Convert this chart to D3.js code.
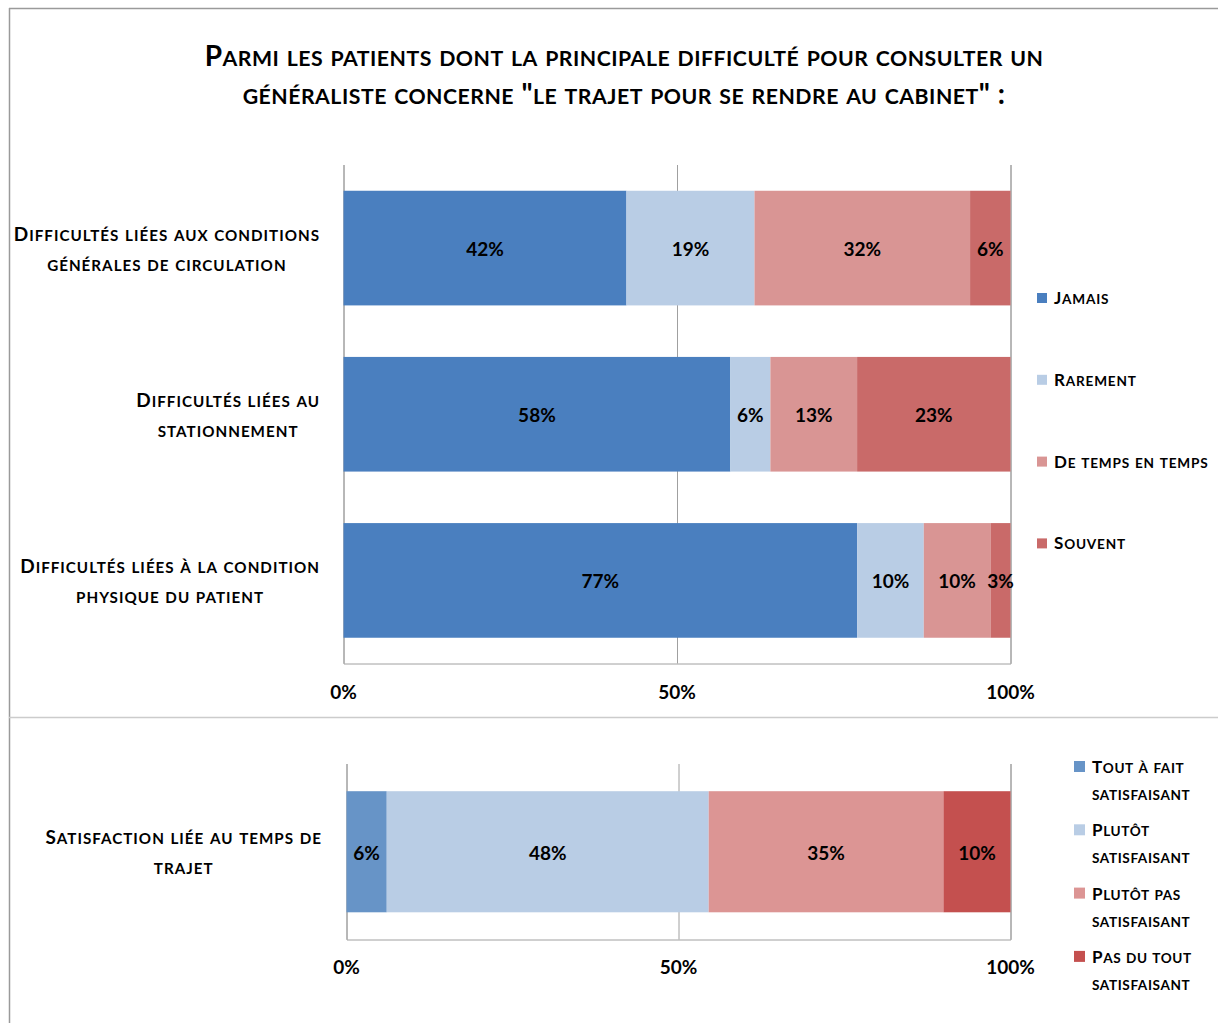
<!DOCTYPE html>
<html>
<head>
<meta charset="utf-8">
<script src="https://cdn.jsdelivr.net/npm/d3@7"></script>
<style>
  html, body { margin: 0; padding: 0; background: #fff; }
  svg { display: block; }
  text { font-family: Lato, "Open Sans", "DejaVu Sans", sans-serif; font-weight: bold; fill: #000; }
</style>
</head>
<body>
<svg id="chart" width="1218" height="1023"></svg>
<script>
// ---------- DATA ----------
const titleLines = [
  "Parmi les patients dont la principale difficulté pour consulter un",
  "généraliste concerne \"le trajet pour se rendre au cabinet\" :"
];

// Top chart: categories (each label split on two lines)
const categories = [
  ["Difficultés liées aux conditions", "générales de circulation"],
  ["Difficultés liées au", "stationnement"],
  ["Difficultés liées à la condition", "physique du patient"]
];
const seriesTop = ["Jamais", "Rarement", "De temps en temps", "Souvent"];
const jamais         = [42, 58, 77];
const rarement       = [19, 6, 10];
const deTempsEnTemps = [32, 13, 10];
const souvent        = [6, 23, 3];
const colorsTop = ["#4a7fbf", "#b9cde5", "#d99594", "#c96a69"];

// Bottom chart
const satCategories = [["Satisfaction liée au temps de", "trajet"]];
const seriesBottom = [
  ["Tout à fait", "satisfaisant"],
  ["Plutôt", "satisfaisant"],
  ["Plutôt pas", "satisfaisant"],
  ["Pas du tout", "satisfaisant"]
];
const toutAFait = [6];
const plutot    = [48];
const plutotPas = [35];
const pasDuTout = [10];
const colorsBottom = ["#6794c7", "#b9cde5", "#dc9594", "#c4504f"];

const tickValues = [0, 0.5, 1];
const tickLabels = ["0%", "50%", "100%"];

// ---------- HELPERS ----------
// manual small caps: lowercase letters become uppercase at a reduced size
function smallCaps(textSel, str, size, ratio, spacing) {
  textSel.style("font-size", size + "px").style("letter-spacing", (spacing || 0) + "px");
  const runs = [];
  for (const ch of str) {
    const isLower = ch !== ch.toUpperCase();
    const last = runs[runs.length - 1];
    if (last && last.lower === isLower) last.s += ch;
    else runs.push({ lower: isLower, s: ch });
  }
  runs.forEach(r => {
    textSel.append("tspan")
      .style("font-size", (r.lower ? size * ratio : size) + "px")
      .text(r.lower ? r.s.toUpperCase() : r.s);
  });
  return textSel;
}

// ---------- DRAW ----------
const svg = d3.select("#chart");
const gridColor = "#a0a0a0";

// frame
svg.append("line").attr("x1", 9).attr("x2", 1218).attr("y1", 8.5).attr("y2", 8.5)
  .attr("stroke", "#9a9a9a").attr("stroke-width", 1.5);
svg.append("line").attr("x1", 9.5).attr("x2", 9.5).attr("y1", 8).attr("y2", 1023)
  .attr("stroke", "#9a9a9a").attr("stroke-width", 1.5);
svg.append("line").attr("x1", 9).attr("x2", 1218).attr("y1", 717.5).attr("y2", 717.5)
  .attr("stroke", "#cccccc").attr("stroke-width", 1.5);

// title
titleLines.forEach((ln, i) => {
  const t = svg.append("text").attr("x", 624).attr("y", 66 + i * 38).attr("text-anchor", "middle");
  smallCaps(t, ln, 28, 0.76, 0.5);
});

function drawChart(opts) {
  const { cats, seriesNames, valueArrays, colors, x0, x1, y0, y1, tickY, labelRight, labelDy } = opts;
  const rows = cats.map((c, i) => {
    const r = { idx: i };
    seriesNames.forEach((s, k) => { r["s" + k] = valueArrays[k][i]; });
    return r;
  });
  const keys = seriesNames.map((s, k) => "s" + k);
  const stacked = d3.stack().keys(keys).offset(d3.stackOffsetExpand)(rows);

  const x = d3.scaleLinear().domain([0, 1]).range([x0, x1]);
  const y = d3.scaleBand().domain(d3.range(cats.length)).range([y0, y1])
    .paddingInner(0.31).paddingOuter(0.155);

  const g = svg.append("g");

  // gridlines
  g.append("g").attr("transform", `translate(0,${y1})`)
    .call(d3.axisBottom(x).tickValues(tickValues).tickSize(-(y1 - y0)).tickFormat(""))
    .call(a => a.select(".domain").attr("stroke", gridColor))
    .call(a => a.selectAll(".tick line").attr("stroke", gridColor).attr("stroke-width", 1));

  // bars
  const layers = g.selectAll("g.layer").data(stacked).join("g")
    .attr("class", "layer").attr("fill", (d, k) => colors[k]);
  layers.selectAll("rect").data(d => d).join("rect")
    .attr("x", d => x(d[0])).attr("width", d => x(d[1]) - x(d[0]))
    .attr("y", (d, i) => y(i)).attr("height", y.bandwidth());

  // value labels
  stacked.forEach((layer, k) => {
    g.append("g").selectAll("text").data(layer).join("text")
      .attr("x", d => (x(d[0]) + x(d[1])) / 2)
      .attr("y", (d, i) => y(i) + y.bandwidth() / 2 + 8)
      .attr("text-anchor", "middle")
      .style("font-size", "19px")
      .text((d, i) => valueArrays[k][i] + "%");
  });

  // x tick labels
  g.append("g").selectAll("text").data(tickValues).join("text")
    .attr("x", d => x(d)).attr("y", tickY)
    .attr("text-anchor", "middle")
    .style("font-size", "19px")
    .text((d, i) => tickLabels[i]);

  // category labels (centered block, right-aligned to labelRight)
  cats.forEach((lines, i) => {
    const cy = y(i) + y.bandwidth() / 2;
    const texts = [];
    lines.forEach((ln, j) => {
      const t = g.append("text").attr("text-anchor", "middle").attr("y", cy + labelDy + j * 30);
      smallCaps(t, ln, 19, 0.8, 1.0);
      texts.push(t);
    });
    const maxW = d3.max(texts, t => t.node().getComputedTextLength());
    texts.forEach(t => t.attr("x", labelRight - maxW / 2));
  });
  return { x, y };
}

drawChart({
  cats: categories, seriesNames: seriesTop,
  valueArrays: [jamais, rarement, deTempsEnTemps, souvent], colors: colorsTop,
  x0: 343.5, x1: 1010.5, y0: 165, y1: 663.5, tickY: 699, labelRight: 320, labelDy: -7.5
});

drawChart({
  cats: satCategories, seriesNames: seriesBottom.map(d => d.join(" ")),
  valueArrays: [toutAFait, plutot, plutotPas, pasDuTout], colors: colorsBottom,
  x0: 346.5, x1: 1010.5, y0: 764, y1: 939.5, tickY: 974, labelRight: 322, labelDy: -8
});

// legends
const legTop = svg.append("g");
seriesTop.forEach((s, k) => {
  const cy = 298 + k * 81.8;
  legTop.append("rect").attr("x", 1037).attr("y", cy - 5).attr("width", 10).attr("height", 10)
    .attr("fill", colorsTop[k]);
  const t = legTop.append("text").attr("x", 1054).attr("y", cy + 6);
  smallCaps(t, s, 17, 0.8, 0.8);
});

const legBot = svg.append("g");
seriesBottom.forEach((lines, k) => {
  const top = 761 + k * 63.3;
  legBot.append("rect").attr("x", 1074).attr("y", top).attr("width", 11).attr("height", 11)
    .attr("fill", colorsBottom[k]);
  lines.forEach((ln, j) => {
    const t = legBot.append("text").attr("x", 1092).attr("y", top + 12 + j * 27);
    smallCaps(t, ln, 17, 0.8, 0.6);
  });
});
</script>
</body>
</html>
